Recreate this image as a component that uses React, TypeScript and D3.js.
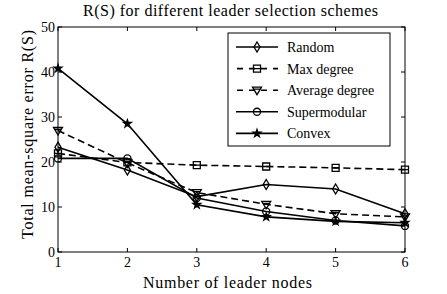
import * as d3 from 'd3';

const leaders = [1, 2, 3, 4, 5, 6];
const randomVals = [23.3, 18.2, 12.3, 15.0, 14.0, 8.5];
const maxDegreeVals = [21.9, 19.9, 19.3, 19.0, 18.7, 18.3];
const avgDegreeVals = [27.0, 19.8, 13.2, 10.6, 8.5, 7.8];
const supermodularVals = [20.8, 20.8, 12.0, 9.0, 7.0, 5.8];
const convexVals = [40.8, 28.5, 10.5, 7.8, 6.8, 6.5];
const yTicks = [0, 10, 20, 30, 40, 50];

type Series = { name: string; values: number[]; marker: string; dashed: boolean };

const series: Series[] = [
  { name: 'Random', values: randomVals, marker: 'diamond', dashed: false },
  { name: 'Max degree', values: maxDegreeVals, marker: 'square', dashed: true },
  { name: 'Average degree', values: avgDegreeVals, marker: 'triangle', dashed: true },
  { name: 'Supermodular', values: supermodularVals, marker: 'circle', dashed: false },
  { name: 'Convex', values: convexVals, marker: 'star', dashed: false },
];

const W = 447;
const H = 294;
const left = 58, right = 405, top = 27, bottom = 252;
const serif = { fontFamily: "'Liberation Serif'" };

const x = d3.scaleLinear().domain([1, 6]).range([left, right]);
const y = d3.scaleLinear().domain([0, 50]).range([bottom, top]);

const line = d3.line<number>()
  .x((_, i) => x(leaders[i]))
  .y(d => y(d));

function markerPath(kind: string) {
  if (kind === 'diamond') return 'M0,-5L3,0L0,5L-3,0Z';
  if (kind === 'square') return 'M-3.5,-3.5H3.5V3.5H-3.5Z M-3.5,0H3.5';
  if (kind === 'triangle') return 'M-4.5,-3L4.5,-3L0,4.5Z M-3,-1H3';
  if (kind === 'circle') return d3.symbol(d3.symbolCircle, 40)() || '';
  return d3.symbol(d3.symbolStar, 18)() || '';
}

function Marker({ kind, cx, cy }: { kind: string; cx: number; cy: number }) {
  return (
    <path
      d={markerPath(kind)}
      transform={`translate(${cx},${cy})`}
      fill={kind === 'star' ? '#000' : 'none'}
      stroke="#000"
      strokeWidth={1.3}
    />
  );
}

export default function App() {
  return (
    <svg width={W} height={H} style={{ position: 'absolute', left: 0, top: 0, background: '#fff' }}>
      {/* series */}
      {series.map(s => (
        <g key={s.name}>
          <path d={line(s.values) || ''} fill="none" stroke="#000" strokeWidth={1.6}
            strokeDasharray={s.dashed ? '7,4' : undefined} />
          {s.values.map((v, i) => <Marker key={i} kind={s.marker} cx={x(leaders[i])} cy={y(v)} />)}
        </g>
      ))}

      {/* axes box and ticks */}
      <rect x={left} y={top} width={right - left} height={bottom - top} fill="none" stroke="#000" />
      {leaders.map(t => (
        <g key={'x' + t}>
          <line x1={x(t)} x2={x(t)} y1={bottom} y2={bottom - 4} stroke="#000" />
          <line x1={x(t)} x2={x(t)} y1={top} y2={top + 4} stroke="#000" />
          <text x={x(t)} y={bottom + 15} textAnchor="middle" fontSize={14} style={serif}>{t}</text>
        </g>
      ))}
      {yTicks.map(t => (
        <g key={'y' + t}>
          <line x1={left} x2={left + 4} y1={y(t)} y2={y(t)} stroke="#000" />
          <line x1={right} x2={right - 4} y1={y(t)} y2={y(t)} stroke="#000" />
          <text x={left - 3} y={y(t) + 5} textAnchor="end" fontSize={14} style={serif}>{t}</text>
        </g>
      ))}

      {/* title and labels */}
      <text x={230.5} y={16} textAnchor="middle" fontSize={16} style={serif}
        textLength={295} lengthAdjust="spacing">
        R(S) for different leader selection schemes
      </text>
      <text x={227.5} y={288} textAnchor="middle" fontSize={16} style={serif}
        textLength={169} lengthAdjust="spacing">
        Number of leader nodes
      </text>
      <text transform="translate(33,134.5) rotate(-90)" textAnchor="middle" fontSize={16} style={serif}
        textLength={209} lengthAdjust="spacing">
        Total mean-square error R(S)
      </text>

      {/* legend */}
      <rect x={228} y={33} width={162} height={113} fill="#fff" stroke="#000" />
      {series.map((s, i) => {
        const ly = 47 + i * 21.6;
        return (
          <g key={'lg' + s.name}>
            <line x1={236} x2={278} y1={ly} y2={ly} stroke="#000" strokeWidth={1.6}
              strokeDasharray={s.dashed ? '6,6' : undefined} strokeDashoffset={s.dashed ? -1 : undefined} />
            <Marker kind={s.marker} cx={257} cy={ly} />
            <text x={287} y={ly + 5} fontSize={14} style={serif}>{s.name}</text>
          </g>
        );
      })}
    </svg>
  );
}
